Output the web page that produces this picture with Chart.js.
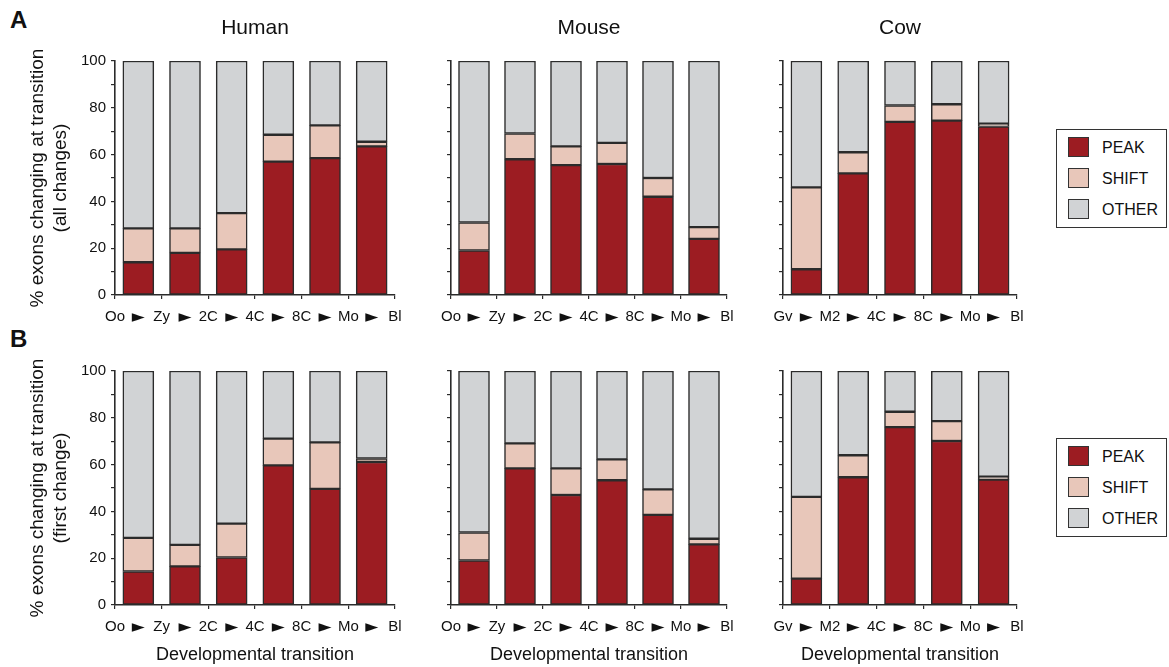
<!DOCTYPE html>
<html>
<head>
<meta charset="utf-8">
<script src="https://cdn.jsdelivr.net/npm/chart.js@4.4.1/dist/chart.umd.min.js"></script>
<style>
  body { margin:0; background:#fff; font-family: Arial, "Liberation Sans", sans-serif; color:#111; }
  #fig { position:relative; width:1169px; height:667px; overflow:hidden; }
  canvas { position:absolute; }
  .letter { position:absolute; left:10px; font-weight:bold; font-size:24px; line-height:24px; }
  .legend { position:absolute; left:1056px; width:109px; height:97px; border:1.5px solid #333; }
  .legend .item { position:absolute; left:11px; height:21px; line-height:21px; font-size:16px; }
  .legend .sw { position:absolute; left:0; top:0; width:19px; height:18px; border:1.5px solid #333; }
  .legend .txt { position:absolute; left:34px; top:0; white-space:nowrap; }
</style>
</head>
<body>
<div id="fig">
  <div class="letter" style="top:8px">A</div>
  <div class="letter" style="top:327px">B</div>

  <canvas id="humanA" width="420" height="330" style="left:0;top:0"></canvas>
  <canvas id="mouseA" width="330" height="330" style="left:420px;top:0"></canvas>
  <canvas id="cowA" width="300" height="330" style="left:750px;top:0"></canvas>

  <canvas id="humanB" width="420" height="337" style="left:0;top:330px"></canvas>
  <canvas id="mouseB" width="330" height="337" style="left:420px;top:330px"></canvas>
  <canvas id="cowB" width="300" height="337" style="left:750px;top:330px"></canvas>

  <div class="legend" id="legendA" style="top:129px"></div>
  <div class="legend" id="legendB" style="top:438px"></div>
</div>

<script>
// developmental stages (tick labels sit on the boundaries between bars)
const stagesHuman = ['Oo', 'Zy', '2C', '4C', '8C', 'Mo', 'Bl'];
const stagesMouse = ['Oo', 'Zy', '2C', '4C', '8C', 'Mo', 'Bl'];
const stagesCow = ['Gv', 'M2', '4C', '8C', 'Mo', 'Bl'];

const seriesNames = ['PEAK', 'SHIFT', 'OTHER'];
const seriesColors = ['#9c1c22', '#e8c7ba', '#d1d3d5'];

// A: all changes, % of exons per transition
const humanPeakA  = [14, 18, 19.5, 57, 58.5, 63.5];
const humanShiftA = [14.5, 10.5, 15.5, 11.5, 14, 2];
const humanOtherA = [71.5, 71.5, 65, 31.5, 27.5, 34.5];

const mousePeakA  = [19, 58, 55.5, 56, 42, 24];
const mouseShiftA = [12, 11, 8, 9, 8, 5];
const mouseOtherA = [69, 31, 36.5, 35, 50, 71];

const cowPeakA  = [11, 52, 74, 74.5, 72];
const cowShiftA = [35, 9, 7, 7, 1.2];
const cowOtherA = [54, 39, 19, 18.5, 26.8];

// B: first change only
const humanPeakB  = [14.3, 16.5, 20.3, 59.7, 49.6, 61.1];
const humanShiftB = [14.4, 9.2, 14.5, 11.4, 19.9, 1.5];
const humanOtherB = [71.3, 74.3, 65.2, 28.9, 30.5, 37.4];

const mousePeakB  = [19, 58.4, 47, 53.3, 38.5, 25.9];
const mouseShiftB = [12, 10.7, 11.4, 8.9, 10.9, 2.4];
const mouseOtherB = [69, 30.9, 41.6, 37.8, 50.6, 71.7];

const cowPeakB  = [11.3, 54.6, 76, 70.1, 53.6];
const cowShiftB = [34.9, 9.4, 6.6, 8.5, 1.2];
const cowOtherB = [53.8, 36, 17.4, 21.4, 45.2];

const EDGE = '#2b2b2b';
const FONT = 'Arial, "Liberation Sans", sans-serif';

function panel(id, stages, peak, shift, other, o) {
  const n = stages.length - 1;
  // bar i spans the transition stages[i] -> stages[i+1]
  const at = vals => vals.map((y, i) => ({ x: i + 0.5, y }));
  const values = [peak, shift, other];

  new Chart(document.getElementById(id), {
    type: 'bar',
    data: {
      datasets: seriesNames.map((name, k) => ({
        label: name,
        data: at(values[k]),
        backgroundColor: seriesColors[k]
      }))
    },
    options: {
      responsive: false,
      animation: false,
      layout: { padding: { left: 0, right: o.padRight, top: o.padTop, bottom: 0 } },
      datasets: { bar: { barThickness: 31, borderColor: EDGE, borderWidth: 1.5, borderSkipped: false } },
      plugins: {
        legend: { display: false },
        tooltip: { enabled: false },
        title: {
          display: !!o.title,
          text: o.title || '',
          fullSize: false,
          color: '#111',
          font: { family: FONT, size: 21, weight: 'normal' },
          padding: { top: 16, bottom: 19.8 }
        }
      },
      scales: {
        x: {
          type: 'linear',
          stacked: true,
          min: 0,
          max: n,
          offset: false,
          afterFit: s => { s.height = o.xHeight; s.paddingLeft = 0; s.paddingRight = 0; },
          ticks: {
            stepSize: 0.5,
            autoSkip: false,
            maxRotation: 0,
            padding: 9,
            color: '#111',
            // stage names on the boundaries, arrows under the bars
            font: c => (c.tick && Number.isInteger(c.tick.value))
              ? { family: FONT, size: 15, lineHeight: '18px' }
              : { family: '"DejaVu Sans", sans-serif', size: 17, lineHeight: '19px' },
            callback: v => Number.isInteger(v) ? stages[v] : '\u25BA'
          },
          grid: {
            offset: false,
            drawOnChartArea: false,
            tickLength: 4,
            lineWidth: 1.2,
            color: c => (c.tick && Number.isInteger(c.tick.value)) ? EDGE : 'rgba(0,0,0,0)'
          },
          border: { color: EDGE, width: 1.6 },
          title: {
            display: !!o.xTitle,
            text: 'Developmental transition',
            color: '#111',
            font: { family: FONT, size: 18 },
            padding: { top: 0, bottom: 1.2 }
          }
        },
        y: {
          stacked: true,
          min: 0,
          max: 100,
          afterFit: s => { s.width = o.yWidth; s.paddingTop = 0; s.paddingBottom = 0; },
          ticks: {
            stepSize: 10,
            padding: 5,
            color: '#111',
            font: { family: FONT, size: 15 },
            callback: v => (o.yLabels && v % 20 === 0) ? v : ''
          },
          grid: { drawOnChartArea: false, tickLength: 4, lineWidth: 1.2, color: EDGE },
          border: { color: EDGE, width: 1.6 },
          title: {
            display: !!o.yTitle,
            text: o.yTitle || '',
            color: '#111',
            font: { family: FONT, size: 19, lineHeight: '23px' },
            padding: { top: 26.5, bottom: 0 }
          }
        }
      }
    }
  });
}

const rowA = { padTop: 0, xHeight: 35 };
const rowB = { padTop: 41, xHeight: 62, xTitle: true };

panel('humanA', stagesHuman, humanPeakA, humanShiftA, humanOtherA,
  { ...rowA, title: 'Human', padRight: 25, yWidth: 115, yLabels: true,
    yTitle: ['% exons changing at transition', '(all changes)'] });
panel('mouseA', stagesMouse, mousePeakA, mouseShiftA, mouseOtherA,
  { ...rowA, title: 'Mouse', padRight: 23, yWidth: 31 });
panel('cowA', stagesCow, cowPeakA, cowShiftA, cowOtherA,
  { ...rowA, title: 'Cow', padRight: 33, yWidth: 33 });

panel('humanB', stagesHuman, humanPeakB, humanShiftB, humanOtherB,
  { ...rowB, padRight: 25, yWidth: 115, yLabels: true,
    yTitle: ['% exons changing at transition', '(first change)'] });
panel('mouseB', stagesMouse, mousePeakB, mouseShiftB, mouseOtherB,
  { ...rowB, padRight: 23, yWidth: 31 });
panel('cowB', stagesCow, cowPeakB, cowShiftB, cowOtherB,
  { ...rowB, padRight: 33, yWidth: 33 });

// framed legend beside the cow panels
['legendA', 'legendB'].forEach(id => {
  const box = document.getElementById(id);
  seriesNames.forEach((name, k) => {
    const item = document.createElement('div');
    item.className = 'item';
    item.style.top = (7 + k * 31) + 'px';
    item.innerHTML = `<span class="sw" style="background:${seriesColors[k]}"></span><span class="txt">${name}</span>`;
    box.appendChild(item);
  });
});
</script>
</body>
</html>
